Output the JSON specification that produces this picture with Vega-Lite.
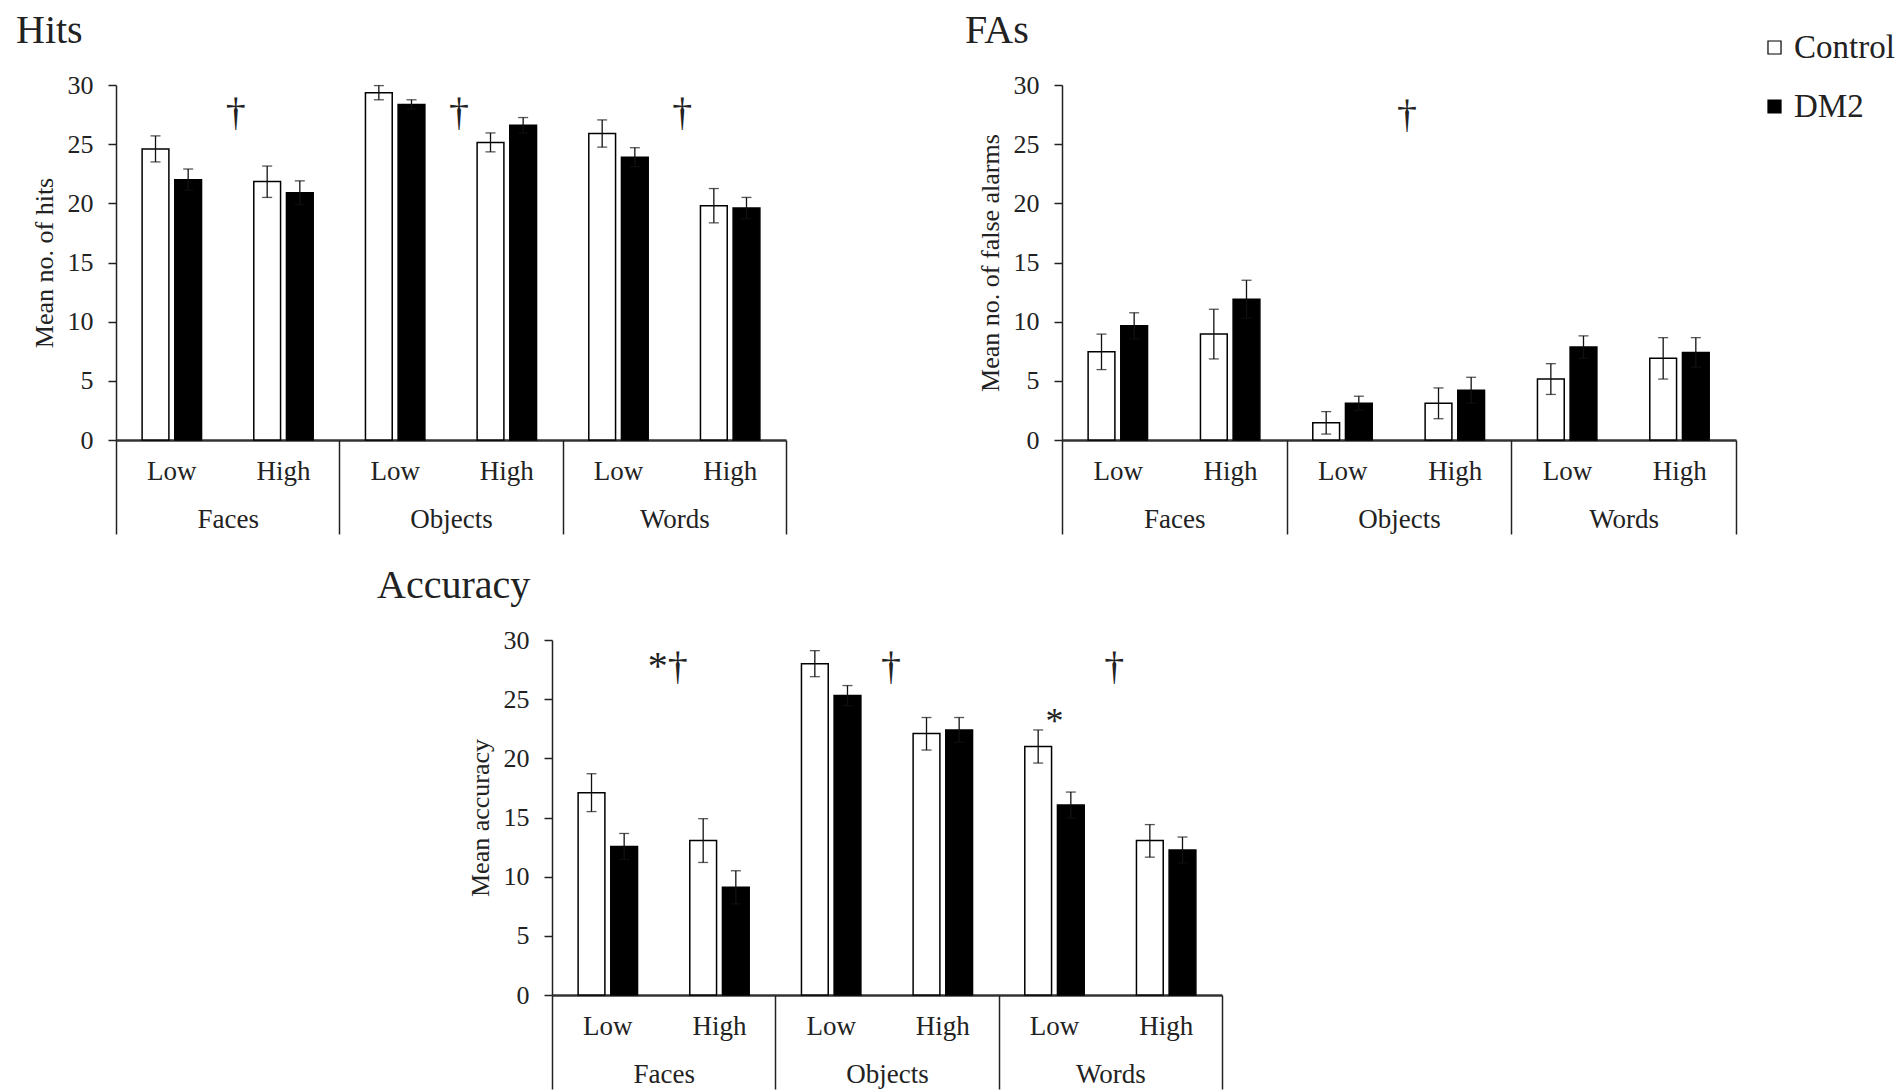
{
  "$schema": "https://vega.github.io/schema/vega-lite/v6.json",
  "background": "white",
  "padding": {"left": 16, "top": 11, "right": 5, "bottom": 2},
  "config": {
    "font": "Liberation Serif",
    "view": {"stroke": null},
    "axisY": {"grid": false, "domainColor": "#222", "domainWidth": 1.5, "tickColor": "#222", "tickWidth": 1.5, "tickSize": 8, "labelFontSize": 26, "labelColor": "#222", "labelPadding": 15, "titleFontSize": 26, "titleFontWeight": "normal", "titleColor": "#222", "titlePadding": 10, "values": [0, 5, 10, 15, 20, 25, 30]},
    "title": {"font": "Liberation Serif", "fontSize": 40, "fontWeight": "normal", "color": "#222", "anchor": "start", "frame": "group", "baseline": "alphabetic", "offset": 21},
    "legend": {"title": null, "orient": "none", "legendX": 1642, "legendY": -54, "symbolType": "square", "symbolSize": 170, "symbolStrokeColor": "black", "symbolStrokeWidth": 1.2, "labelFontSize": 33, "labelColor": "#222", "rowPadding": 25, "labelOffset": 3}
  },
  "datasets": {
    "hits": [
      {"cat": "Faces", "level": "Low", "pos": "Faces|Low", "group": "Control", "mean": 24.6, "lo": 23.5, "hi": 25.7},
      {"cat": "Faces", "level": "Low", "pos": "Faces|Low", "group": "DM2", "mean": 22.0, "lo": 21.1, "hi": 22.9},
      {"cat": "Faces", "level": "High", "pos": "Faces|High", "group": "Control", "mean": 21.85, "lo": 20.5, "hi": 23.15},
      {"cat": "Faces", "level": "High", "pos": "Faces|High", "group": "DM2", "mean": 20.9, "lo": 19.9, "hi": 21.9},
      {"cat": "Objects", "level": "Low", "pos": "Objects|Low", "group": "Control", "mean": 29.35, "lo": 28.75, "hi": 29.95},
      {"cat": "Objects", "level": "Low", "pos": "Objects|Low", "group": "DM2", "mean": 28.35, "lo": 27.95, "hi": 28.75},
      {"cat": "Objects", "level": "High", "pos": "Objects|High", "group": "Control", "mean": 25.15, "lo": 24.35, "hi": 25.95},
      {"cat": "Objects", "level": "High", "pos": "Objects|High", "group": "DM2", "mean": 26.6, "lo": 25.95, "hi": 27.25},
      {"cat": "Words", "level": "Low", "pos": "Words|Low", "group": "Control", "mean": 25.9, "lo": 24.75, "hi": 27.05},
      {"cat": "Words", "level": "Low", "pos": "Words|Low", "group": "DM2", "mean": 23.9, "lo": 23.1, "hi": 24.7},
      {"cat": "Words", "level": "High", "pos": "Words|High", "group": "Control", "mean": 19.8, "lo": 18.35, "hi": 21.25},
      {"cat": "Words", "level": "High", "pos": "Words|High", "group": "DM2", "mean": 19.6, "lo": 18.7, "hi": 20.5}
    ],
    "fas": [
      {"cat": "Faces", "level": "Low", "pos": "Faces|Low", "group": "Control", "mean": 7.45, "lo": 5.95, "hi": 8.95},
      {"cat": "Faces", "level": "Low", "pos": "Faces|Low", "group": "DM2", "mean": 9.65, "lo": 8.55, "hi": 10.75},
      {"cat": "Faces", "level": "High", "pos": "Faces|High", "group": "Control", "mean": 8.95, "lo": 6.85, "hi": 11.05},
      {"cat": "Faces", "level": "High", "pos": "Faces|High", "group": "DM2", "mean": 11.9, "lo": 10.3, "hi": 13.5},
      {"cat": "Objects", "level": "Low", "pos": "Objects|Low", "group": "Control", "mean": 1.45, "lo": 0.5, "hi": 2.4},
      {"cat": "Objects", "level": "Low", "pos": "Objects|Low", "group": "DM2", "mean": 3.1, "lo": 2.5, "hi": 3.7},
      {"cat": "Objects", "level": "High", "pos": "Objects|High", "group": "Control", "mean": 3.1, "lo": 1.8, "hi": 4.4},
      {"cat": "Objects", "level": "High", "pos": "Objects|High", "group": "DM2", "mean": 4.2, "lo": 3.1, "hi": 5.3},
      {"cat": "Words", "level": "Low", "pos": "Words|Low", "group": "Control", "mean": 5.15, "lo": 3.85, "hi": 6.45},
      {"cat": "Words", "level": "Low", "pos": "Words|Low", "group": "DM2", "mean": 7.85, "lo": 6.9, "hi": 8.8},
      {"cat": "Words", "level": "High", "pos": "Words|High", "group": "Control", "mean": 6.9, "lo": 5.15, "hi": 8.65},
      {"cat": "Words", "level": "High", "pos": "Words|High", "group": "DM2", "mean": 7.4, "lo": 6.15, "hi": 8.65}
    ],
    "acc": [
      {"cat": "Faces", "level": "Low", "pos": "Faces|Low", "group": "Control", "mean": 17.1, "lo": 15.5, "hi": 18.7},
      {"cat": "Faces", "level": "Low", "pos": "Faces|Low", "group": "DM2", "mean": 12.55, "lo": 11.45, "hi": 13.65},
      {"cat": "Faces", "level": "High", "pos": "Faces|High", "group": "Control", "mean": 13.05, "lo": 11.2, "hi": 14.9},
      {"cat": "Faces", "level": "High", "pos": "Faces|High", "group": "DM2", "mean": 9.1, "lo": 7.7, "hi": 10.5},
      {"cat": "Objects", "level": "Low", "pos": "Objects|Low", "group": "Control", "mean": 28.0, "lo": 26.9, "hi": 29.1},
      {"cat": "Objects", "level": "Low", "pos": "Objects|Low", "group": "DM2", "mean": 25.3, "lo": 24.45, "hi": 26.15},
      {"cat": "Objects", "level": "High", "pos": "Objects|High", "group": "Control", "mean": 22.1, "lo": 20.7, "hi": 23.45},
      {"cat": "Objects", "level": "High", "pos": "Objects|High", "group": "DM2", "mean": 22.4, "lo": 21.35, "hi": 23.45},
      {"cat": "Words", "level": "Low", "pos": "Words|Low", "group": "Control", "mean": 21.0, "lo": 19.6, "hi": 22.4},
      {"cat": "Words", "level": "Low", "pos": "Words|Low", "group": "DM2", "mean": 16.05, "lo": 14.95, "hi": 17.15},
      {"cat": "Words", "level": "High", "pos": "Words|High", "group": "Control", "mean": 13.05, "lo": 11.65, "hi": 14.4},
      {"cat": "Words", "level": "High", "pos": "Words|High", "group": "DM2", "mean": 12.25, "lo": 11.15, "hi": 13.35}
    ],
    "hitsMarks": [
      {"cat": "Faces", "y": 27.6, "label": "†"},
      {"cat": "Objects", "y": 27.6, "label": "†"},
      {"cat": "Words", "y": 27.6, "label": "†"}
    ],
    "fasMarks": [
      {"cat": "Objects", "y": 27.5, "label": "†"}
    ],
    "accMarks": [
      {"cat": "Faces", "y": 27.7, "label": "*†"},
      {"cat": "Objects", "y": 27.7, "label": "†"},
      {"cat": "Words", "y": 27.7, "label": "†"}
    ],
    "accStars": [
      {"pos": "Words|Low", "y": 23.1, "label": "*"}
    ]
  },
  "spacing": 31,
  "vconcat": [
    {
      "bounds": "flush",
      "spacing": 276,
      "hconcat": [
        {
          "title": {"text": "Hits", "dx": -100},
          "width": 670,
          "height": 355,
          "resolve": {"scale": {"x": "independent"}, "axis": {"x": "independent"}},
          "layer": [
            {
              "data": {"name": "hits"},
              "encoding": {
                "x": {"field": "pos", "type": "nominal", "sort": ["Faces|Low", "Faces|High", "Objects|Low", "Objects|High", "Words|Low", "Words|High"], "scale": {"paddingInner": 0, "paddingOuter": 0}, "axis": {"orient": "bottom", "title": null, "ticks": false, "domain": true, "domainColor": "#333", "domainWidth": 2.5, "labelAngle": 0, "labelFontSize": 27, "labelColor": "#222", "labelPadding": 18, "labelExpr": "split(datum.value, '|')[1]"}},
                "xOffset": {"field": "group", "type": "nominal", "sort": ["Control", "DM2"], "scale": {"paddingInner": 0.18, "paddingOuter": 0.8}}
              },
              "layer": [
                {"mark": {"type": "bar", "stroke": "black", "strokeWidth": 1.5}, "encoding": {"y": {"field": "mean", "type": "quantitative", "title": "Mean no. of hits", "scale": {"domain": [0, 30], "nice": false}}, "fill": {"field": "group", "type": "nominal", "scale": {"domain": ["Control", "DM2"], "range": ["white", "black"]}}}},
                {"mark": {"type": "rule", "color": "#111", "strokeWidth": 1.3}, "encoding": {"y": {"field": "lo", "type": "quantitative", "title": "Mean no. of hits"}, "y2": {"field": "hi"}}},
                {"mark": {"type": "tick", "color": "#111", "size": 10, "thickness": 1.3}, "encoding": {"y": {"field": "lo", "type": "quantitative", "title": "Mean no. of hits"}}},
                {"mark": {"type": "tick", "color": "#111", "size": 10, "thickness": 1.3}, "encoding": {"y": {"field": "hi", "type": "quantitative", "title": "Mean no. of hits"}}}
              ]
            },
            {
              "data": {"name": "hitsMarks"},
              "mark": {"type": "text", "fontSize": 40, "color": "#222", "baseline": "middle", "align": "center", "dx": 8},
              "encoding": {
                "x": {"field": "cat", "type": "nominal", "sort": ["Faces", "Objects", "Words"], "scale": {"paddingInner": 0, "paddingOuter": 0}, "axis": {"orient": "bottom", "title": null, "domain": false, "ticks": true, "tickBand": "extent", "tickSize": 94, "tickColor": "#222", "tickWidth": 1.5, "labelAngle": 0, "labelFontSize": 27, "labelColor": "#222", "labelPadding": -28}},
                "y": {"field": "y", "type": "quantitative", "title": "Mean no. of hits"},
                "text": {"field": "label"}
              }
            }
          ]
        },
        {
          "title": {"text": "FAs", "dx": -97},
          "width": 674,
          "height": 355,
          "resolve": {"scale": {"x": "independent"}, "axis": {"x": "independent"}},
          "layer": [
            {
              "data": {"name": "fas"},
              "encoding": {
                "x": {"field": "pos", "type": "nominal", "sort": ["Faces|Low", "Faces|High", "Objects|Low", "Objects|High", "Words|Low", "Words|High"], "scale": {"paddingInner": 0, "paddingOuter": 0}, "axis": {"orient": "bottom", "title": null, "ticks": false, "domain": true, "domainColor": "#333", "domainWidth": 2.5, "labelAngle": 0, "labelFontSize": 27, "labelColor": "#222", "labelPadding": 18, "labelExpr": "split(datum.value, '|')[1]"}},
                "xOffset": {"field": "group", "type": "nominal", "sort": ["Control", "DM2"], "scale": {"paddingInner": 0.18, "paddingOuter": 0.8}}
              },
              "layer": [
                {"mark": {"type": "bar", "stroke": "black", "strokeWidth": 1.5}, "encoding": {"y": {"field": "mean", "type": "quantitative", "title": "Mean no. of false alarms", "scale": {"domain": [0, 30], "nice": false}}, "fill": {"field": "group", "type": "nominal", "scale": {"domain": ["Control", "DM2"], "range": ["white", "black"]}}}},
                {"mark": {"type": "rule", "color": "#111", "strokeWidth": 1.3}, "encoding": {"y": {"field": "lo", "type": "quantitative", "title": "Mean no. of false alarms"}, "y2": {"field": "hi"}}},
                {"mark": {"type": "tick", "color": "#111", "size": 10, "thickness": 1.3}, "encoding": {"y": {"field": "lo", "type": "quantitative", "title": "Mean no. of false alarms"}}},
                {"mark": {"type": "tick", "color": "#111", "size": 10, "thickness": 1.3}, "encoding": {"y": {"field": "hi", "type": "quantitative", "title": "Mean no. of false alarms"}}}
              ]
            },
            {
              "data": {"name": "fasMarks"},
              "mark": {"type": "text", "fontSize": 40, "color": "#222", "baseline": "middle", "align": "center", "dx": 8},
              "encoding": {
                "x": {"field": "cat", "type": "nominal", "sort": ["Faces", "Objects", "Words"], "scale": {"domain": ["Faces", "Objects", "Words"], "paddingInner": 0, "paddingOuter": 0}, "axis": {"orient": "bottom", "title": null, "domain": false, "ticks": true, "tickBand": "extent", "tickSize": 94, "tickColor": "#222", "tickWidth": 1.5, "labelAngle": 0, "labelFontSize": 27, "labelColor": "#222", "labelPadding": -28}},
                "y": {"field": "y", "type": "quantitative", "title": "Mean no. of false alarms"},
                "text": {"field": "label"}
              }
            }
          ]
        }
      ]
    },
    {
      "bounds": "flush",
      "spacing": 0,
      "hconcat": [
        {
          "width": 436,
          "height": 355,
          "data": {"values": []},
          "mark": {"type": "point", "opacity": 0},
          "encoding": {}
        },
        {
          "title": {"text": "Accuracy", "dx": -175},
          "width": 670,
          "height": 355,
          "resolve": {"scale": {"x": "independent"}, "axis": {"x": "independent"}},
          "layer": [
            {
              "data": {"name": "acc"},
              "encoding": {
                "x": {"field": "pos", "type": "nominal", "sort": ["Faces|Low", "Faces|High", "Objects|Low", "Objects|High", "Words|Low", "Words|High"], "scale": {"domain": ["Faces|Low", "Faces|High", "Objects|Low", "Objects|High", "Words|Low", "Words|High"], "paddingInner": 0, "paddingOuter": 0}, "axis": {"orient": "bottom", "title": null, "ticks": false, "domain": true, "domainColor": "#333", "domainWidth": 2.5, "labelAngle": 0, "labelFontSize": 27, "labelColor": "#222", "labelPadding": 18, "labelExpr": "split(datum.value, '|')[1]"}}
              },
              "layer": [
                {"mark": {"type": "bar", "stroke": "black", "strokeWidth": 1.5}, "encoding": {"xOffset": {"field": "group", "type": "nominal", "sort": ["Control", "DM2"], "scale": {"paddingInner": 0.18, "paddingOuter": 0.8}}, "y": {"field": "mean", "type": "quantitative", "title": "Mean accuracy", "scale": {"domain": [0, 30], "nice": false}}, "fill": {"field": "group", "type": "nominal", "scale": {"domain": ["Control", "DM2"], "range": ["white", "black"]}}}},
                {"mark": {"type": "rule", "color": "#111", "strokeWidth": 1.3}, "encoding": {"xOffset": {"field": "group", "type": "nominal", "sort": ["Control", "DM2"], "scale": {"paddingInner": 0.18, "paddingOuter": 0.8}}, "y": {"field": "lo", "type": "quantitative", "title": "Mean accuracy"}, "y2": {"field": "hi"}}},
                {"mark": {"type": "tick", "color": "#111", "size": 10, "thickness": 1.3}, "encoding": {"xOffset": {"field": "group", "type": "nominal", "sort": ["Control", "DM2"], "scale": {"paddingInner": 0.18, "paddingOuter": 0.8}}, "y": {"field": "lo", "type": "quantitative", "title": "Mean accuracy"}}},
                {"mark": {"type": "tick", "color": "#111", "size": 10, "thickness": 1.3}, "encoding": {"xOffset": {"field": "group", "type": "nominal", "sort": ["Control", "DM2"], "scale": {"paddingInner": 0.18, "paddingOuter": 0.8}}, "y": {"field": "hi", "type": "quantitative", "title": "Mean accuracy"}}},
                {"data": {"name": "accStars"}, "mark": {"type": "text", "fontSize": 36, "color": "#222", "baseline": "middle", "align": "center"}, "encoding": {"y": {"field": "y", "type": "quantitative", "title": "Mean accuracy"}, "text": {"field": "label"}}}
              ]
            },
            {
              "data": {"name": "accMarks"},
              "mark": {"type": "text", "fontSize": 40, "color": "#222", "baseline": "middle", "align": "center", "dx": 4},
              "encoding": {
                "x": {"field": "cat", "type": "nominal", "sort": ["Faces", "Objects", "Words"], "scale": {"domain": ["Faces", "Objects", "Words"], "paddingInner": 0, "paddingOuter": 0}, "axis": {"orient": "bottom", "title": null, "domain": false, "ticks": true, "tickBand": "extent", "tickSize": 94, "tickColor": "#222", "tickWidth": 1.5, "labelAngle": 0, "labelFontSize": 27, "labelColor": "#222", "labelPadding": -28}},
                "y": {"field": "y", "type": "quantitative", "title": "Mean accuracy"},
                "text": {"field": "label"}
              }
            }
          ]
        }
      ]
    }
  ]
}
